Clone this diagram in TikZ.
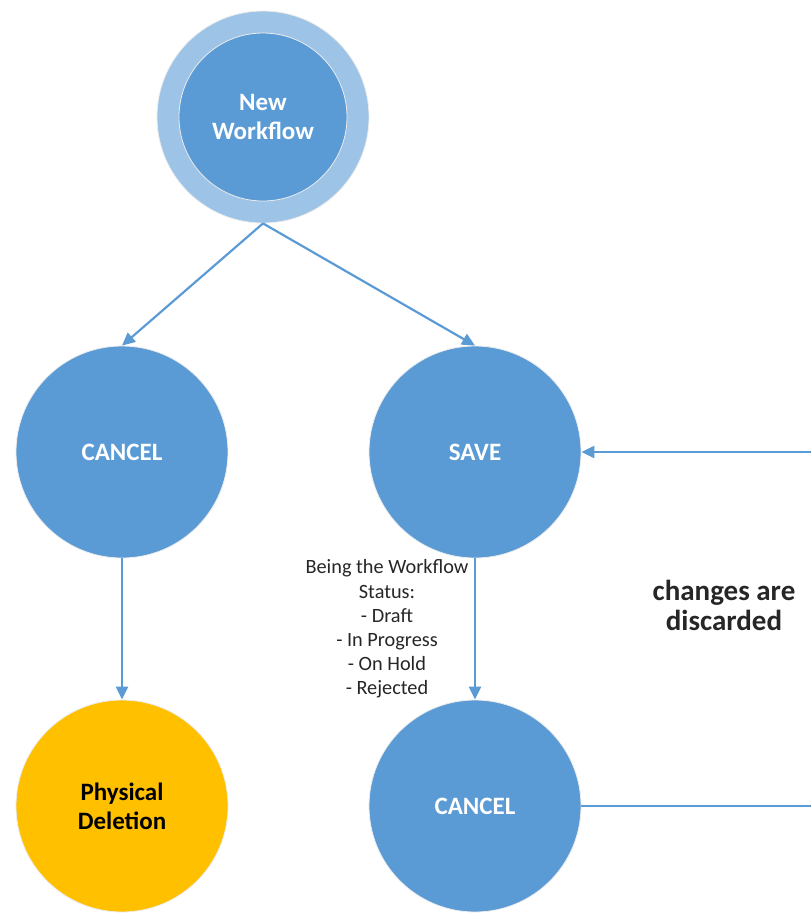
\documentclass[tikz,border=0pt]{standalone}
\usepackage{fontspec}
\setmainfont{Carlito}
\usepackage{tikz}
\usetikzlibrary{arrows.meta,positioning}
\definecolor{wfblue}{HTML}{5B9BD5}
\definecolor{wflight}{HTML}{9DC3E6}
\definecolor{wfgold}{HTML}{FFC000}
\definecolor{wftext}{HTML}{262626}
\tikzset{
  statenode/.style={draw=white!85!gray, line width=0.8pt, circle, minimum size=212pt, inner sep=0pt, fill=wfblue, text=white, font=\fontsize{25}{29}\selectfont\bfseries, align=center},
  finalnode/.style={statenode, fill=wfgold, text=black},
  ringnode/.style={statenode, fill=wflight},
  flow/.style={draw=wfblue, line width=2.2pt, -{Triangle[length=13pt,width=12pt]}},
  note/.style={align=center, text=wftext}
}

\begin{document}
\begin{tikzpicture}[x=1pt, y=-1pt]
  \useasboundingbox (0,0) rectangle (811,914);
  \node[ringnode] (newwf) at (263,117) {};
  \node[statenode, minimum size=168pt] (newwfin) at (newwf.center) {New\\Workflow};
  \node[statenode] (cancelA) at (122,452) {CANCEL};
  \node[statenode] (save) at (475,452) {SAVE};
  \node[finalnode] (deletion) at (122,806) {Physical\\Deletion};
  \node[statenode] (cancelB) at (475,806) {CANCEL};
  \coordinate (loopin) at (811,452);
  \coordinate (loopout) at (811,806);
  % transitions
  \draw[flow] (newwf.south) -- (cancelA.north);
  \draw[flow] (newwf.south) -- (save.north);
  \draw[flow] (cancelA.south) -- (deletion.north);
  \draw[flow] (save.south) -- (cancelB.north);
  \draw[flow, -] (cancelB.east) -- (loopout);
  \draw[flow] (loopin) -- (save.east);
  % labels
  \node[note, font=\fontsize{20.3}{24.2}\selectfont] (status) at (387,629)
    {Being the Workflow\\Status:\\- Draft\\- In Progress\\- On Hold\\- Rejected};
  \node[note, font=\fontsize{29}{30}\selectfont\bfseries] (discard) at (724,605)
    {changes are\\discarded};
\end{tikzpicture}
\end{document}
